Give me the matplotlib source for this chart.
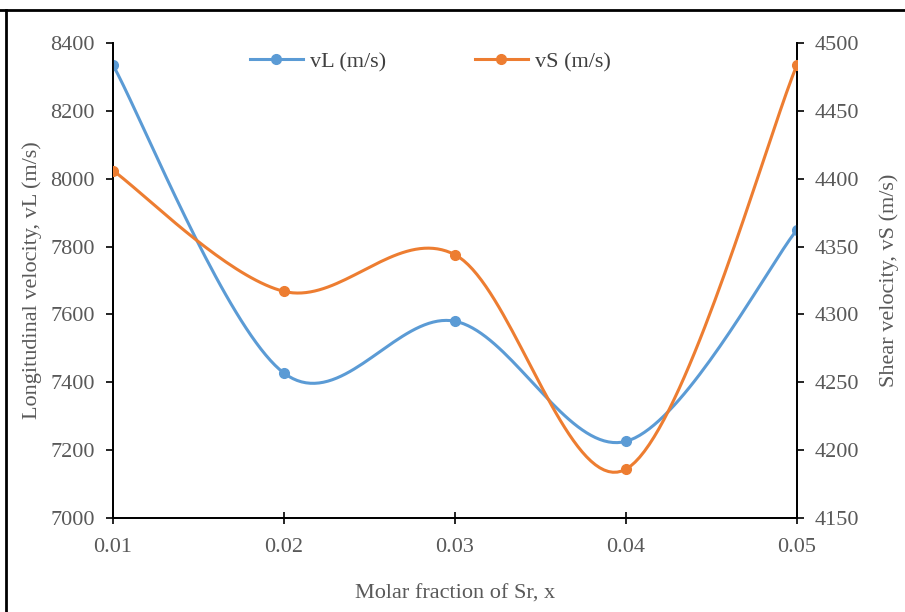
import matplotlib
matplotlib.use("Agg")
import matplotlib.pyplot as plt
import numpy as np
from matplotlib.lines import Line2D

plt.rcParams["font.family"] = ["Liberation Serif", "DejaVu Serif"]

# data
x_frac = [0.01, 0.02, 0.03, 0.04, 0.05]
v_long = [8335, 7427, 7580, 7226, 7850]
v_shear = [4406, 4317, 4344, 4186, 4484]
x_ticks = [0.01, 0.02, 0.03, 0.04, 0.05]
left_ticks = [7000, 7200, 7400, 7600, 7800, 8000, 8200, 8400]
right_ticks = [4150, 4200, 4250, 4300, 4350, 4400, 4450, 4500]

BLUE = "#5B9BD5"
ORANGE = "#ED7D31"
GREY = "#595959"


def smooth(xs, ys, n=40):
    """Excel-like smoothed line (Catmull-Rom through bezier segments)."""
    px = np.asarray(xs, float)
    py = np.asarray(ys, float)
    out_x, out_y = [], []
    t = np.linspace(0, 1, n)
    for i in range(len(px) - 1):
        i0 = max(i - 1, 0)
        i3 = min(i + 2, len(px) - 1)
        c1x = px[i] + (px[i + 1] - px[i0]) / 6
        c1y = py[i] + (py[i + 1] - py[i0]) / 6
        c2x = px[i + 1] - (px[i3] - px[i]) / 6
        c2y = py[i + 1] - (py[i3] - py[i]) / 6
        bx = (1 - t) ** 3 * px[i] + 3 * (1 - t) ** 2 * t * c1x + 3 * (1 - t) * t ** 2 * c2x + t ** 3 * px[i + 1]
        by = (1 - t) ** 3 * py[i] + 3 * (1 - t) ** 2 * t * c1y + 3 * (1 - t) * t ** 2 * c2y + t ** 3 * py[i + 1]
        out_x.extend(bx)
        out_y.extend(by)
    return np.array(out_x), np.array(out_y)


fig = plt.figure(figsize=(9.05, 6.12), dpi=100)
fig.patch.set_facecolor("white")
ax = fig.add_axes([0.1249, 0.1536, 0.7558, 0.776])
ax2 = ax.twinx()

sx, sy = smooth(x_frac, v_long)
ax.plot(sx, sy, color=BLUE, lw=2.2, zorder=3)
ax.plot(x_frac, v_long, "o", color=BLUE, ms=7, zorder=4)

sx, sy = smooth(x_frac, v_shear)
ax2.plot(sx, sy, color=ORANGE, lw=2.2, zorder=3)
ax2.plot(x_frac, v_shear, "o", color=ORANGE, ms=7, zorder=4)

ax.set_xlim(0.01, 0.05)
ax.set_ylim(7000, 8400)
ax2.set_ylim(4150, 4500)
ax.set_xticks(x_ticks)
ax.set_xticklabels([f"{v:.2f}" for v in x_ticks])
ax.set_yticks(left_ticks)
ax2.set_yticks(right_ticks)

for a in (ax, ax2):
    a.spines["top"].set_visible(False)
    for s in a.spines.values():
        s.set_linewidth(1.3)
        s.set_color("black")
    a.patch.set_visible(False)

ax.tick_params(axis="x", direction="inout", length=9, width=1.2, pad=10,
               labelsize=16, labelcolor=GREY)
ax.tick_params(axis="y", direction="out", length=5, width=1.2, pad=8,
               labelsize=16, labelcolor=GREY)
ax2.tick_params(axis="y", direction="out", length=5, width=1.2, pad=8,
                labelsize=16, labelcolor=GREY)

ax.set_xlabel("Molar fraction of Sr, x", fontsize=16, color=GREY, labelpad=20)
ax.set_ylabel("Longitudinal velocity, vL (m/s)", fontsize=16, color=GREY, labelpad=6)
ax2.set_ylabel("Shear velocity, vS (m/s)", fontsize=16, color=GREY, labelpad=14)

handles = [
    Line2D([], [], color=BLUE, lw=2.2, marker="o", ms=7),
    Line2D([], [], color=ORANGE, lw=2.2, marker="o", ms=7),
]
leg = fig.legend(handles, ["vL (m/s)", "vS (m/s)"], loc="center",
                 bbox_to_anchor=(430 / 905, 1 - 62 / 612), ncol=2, frameon=False,
                 fontsize=16, handlelength=2.4, handletextpad=0.3, columnspacing=4.0)
for txt in leg.get_texts():
    txt.set_color("#404040")

# outer frame of the cropped figure
fig.add_artist(Line2D([0, 1], [1 - 10 / 612] * 2, transform=fig.transFigure,
                      color="black", lw=2))
fig.add_artist(Line2D([6 / 905] * 2, [0, 1 - 10 / 612], transform=fig.transFigure,
                      color="black", lw=2))

fig.savefig("out.png", dpi=100, facecolor="white")
